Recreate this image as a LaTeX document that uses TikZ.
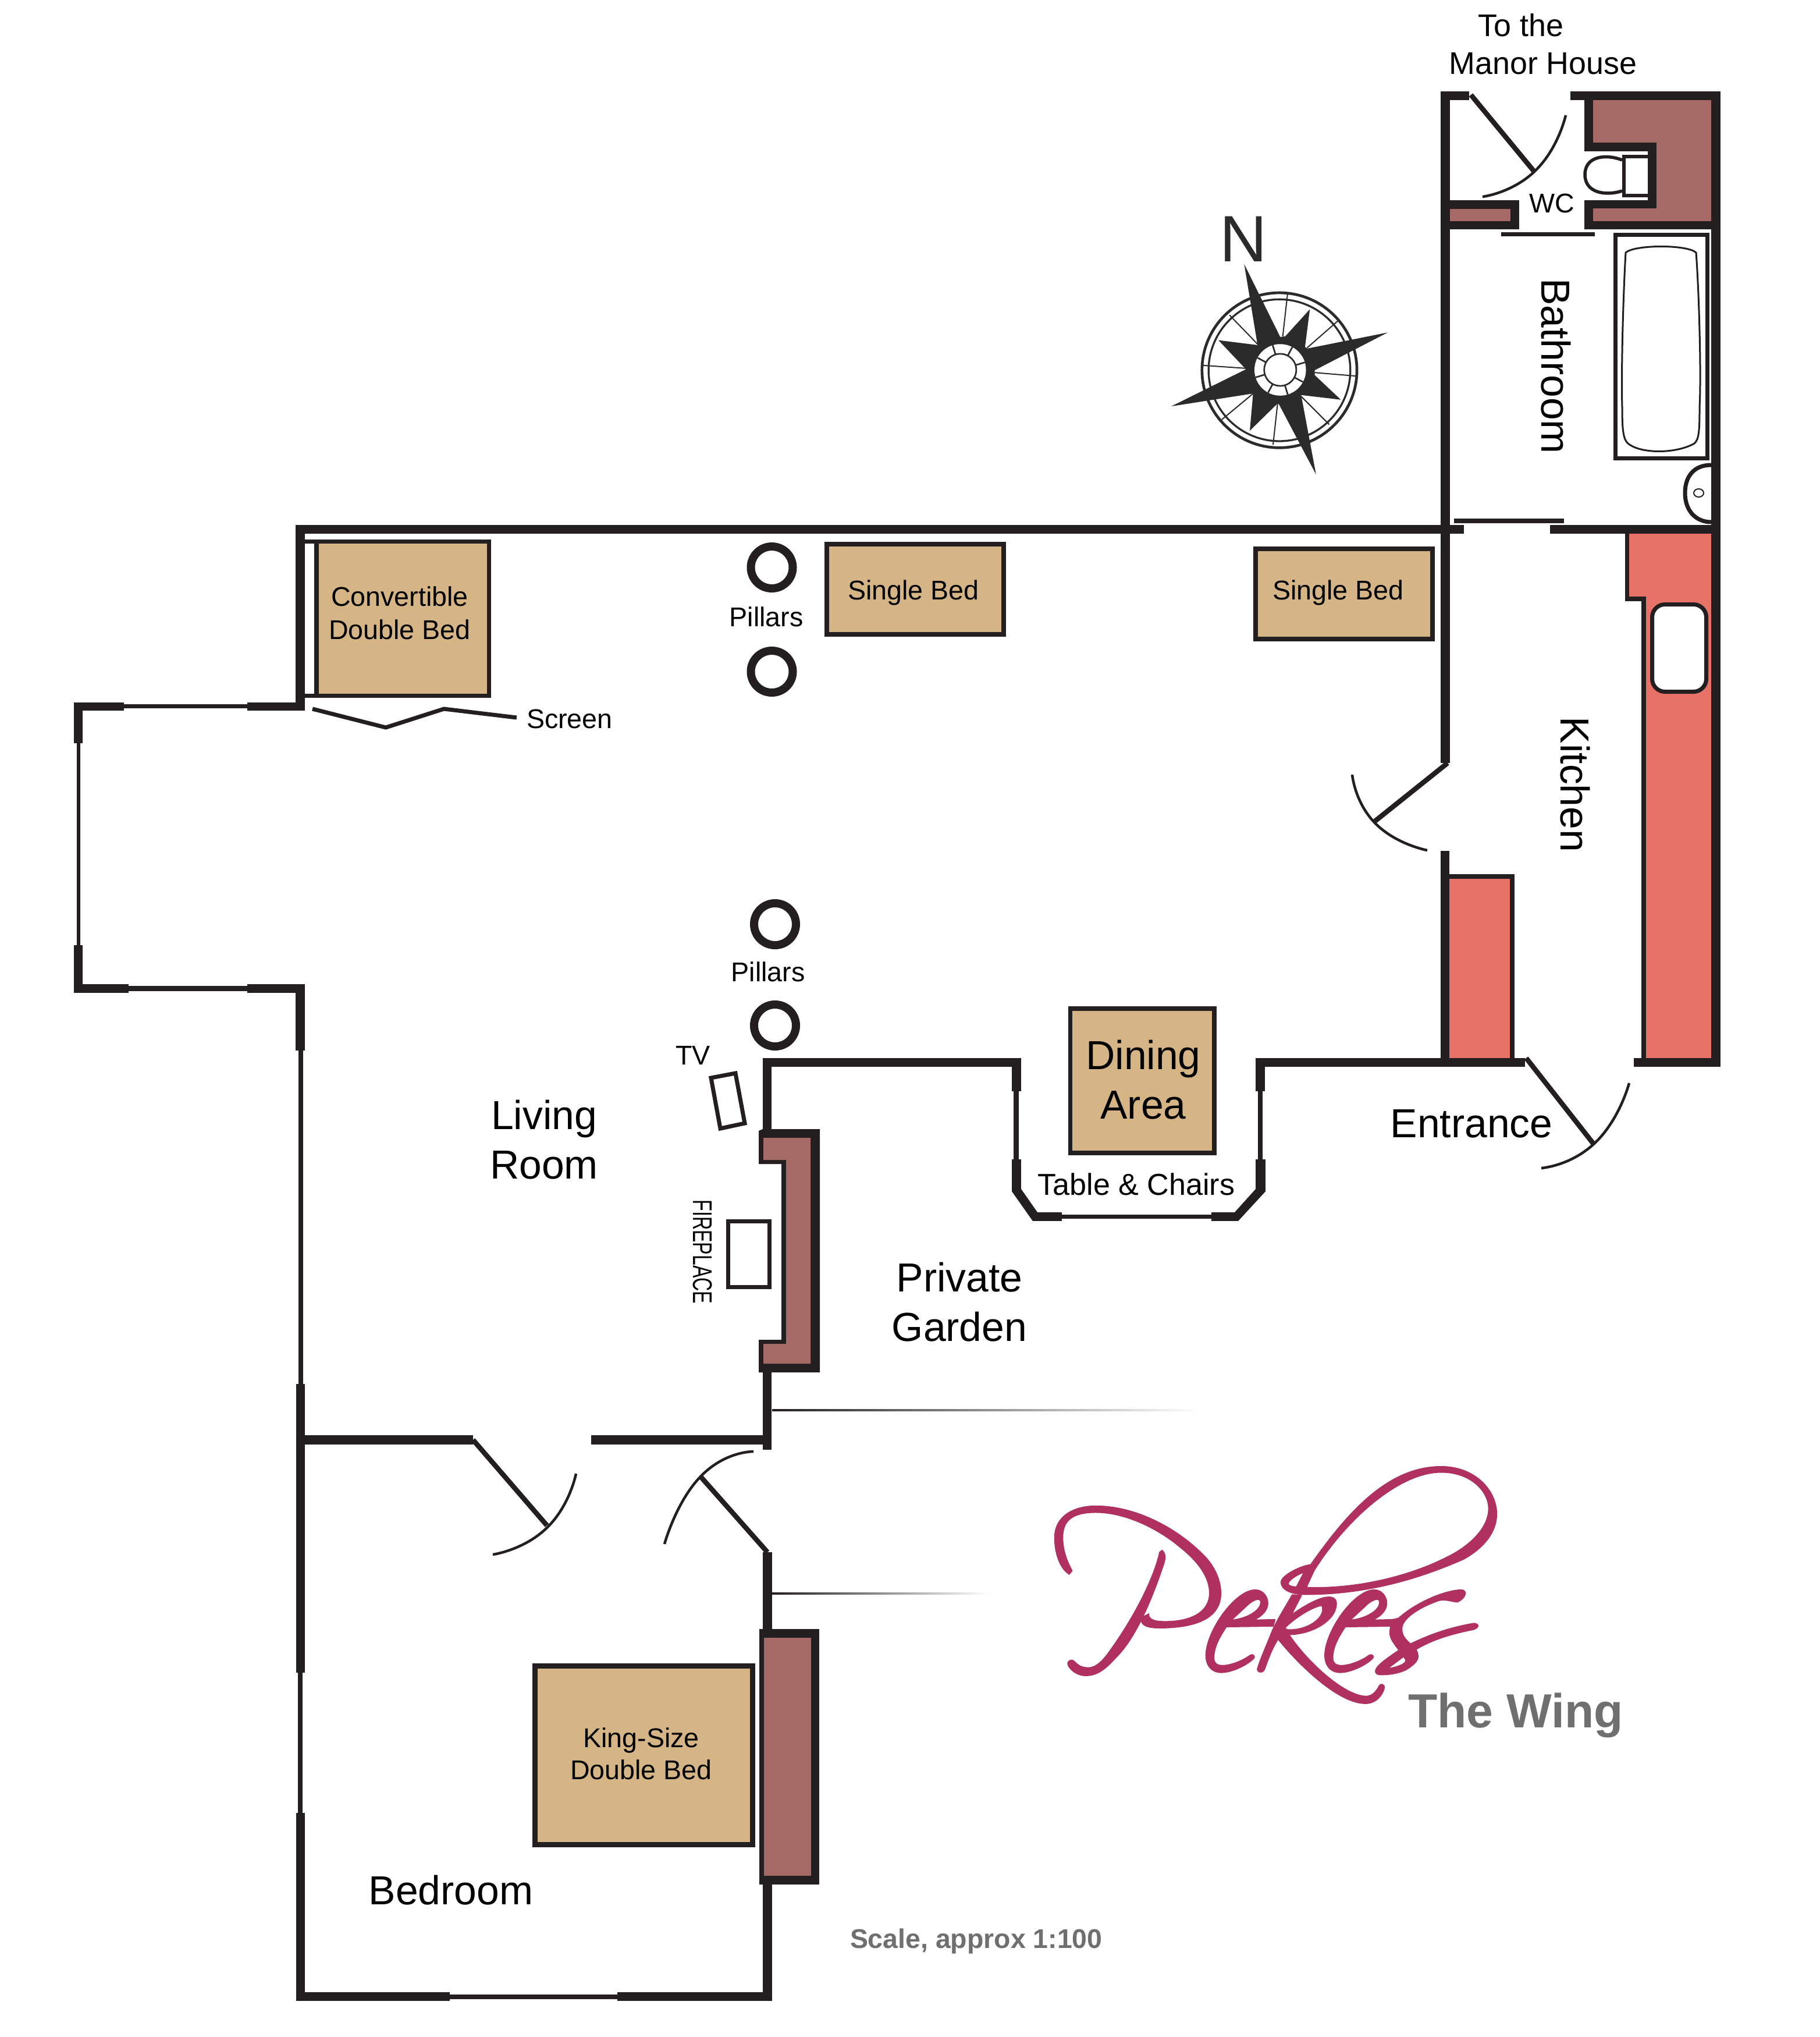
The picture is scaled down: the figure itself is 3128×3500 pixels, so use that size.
\documentclass[tikz,border=0pt]{standalone}
\usepackage{fontspec}
\usetikzlibrary{calc}
\setmainfont{Liberation Sans}
\definecolor{wallc}{HTML}{231F20}
\definecolor{tanc}{HTML}{D5B585}
\definecolor{brownc}{HTML}{A56A66}
\definecolor{coralc}{HTML}{E77267}
\definecolor{compassc}{HTML}{2B2B2B}
\definecolor{logoc}{HTML}{B03060}
\definecolor{greyc}{HTML}{6F6F6F}
\tikzset{
  wallfill/.style={fill=wallc},
  leaf/.style={draw=wallc,line width=0.085cm},
  swing/.style={draw=wallc,line width=0.045cm,smooth,tension=1},
  bedbox/.style={draw=wallc,fill=tanc,line width=0.08cm},
  pillar/.style={draw=wallc,line width=0.14cm},
  lab/.style={anchor=base,inner sep=0pt,outer sep=0pt},
  tsm/.style={lab,font=\fontsize{13.25}{15}\selectfont},
  tmd/.style={lab,font=\fontsize{14.8}{17}\selectfont},
  ttop/.style={lab,font=\fontsize{15.3}{18}\selectfont},
  tbg/.style={lab,font=\fontsize{19.8}{23}\selectfont},
  tgrey/.style={lab,text=greyc,font=\bfseries\fontsize{13.2}{15}\selectfont},
  logofill/.style={fill=logoc,even odd rule},
}
\newcommand{\W}[4]{\fill[wallfill] (#1,#2) rectangle (#3,#4);}
\newcommand{\logoE}{
  \fill[logofill] (580,733) .. controls (600,733) and (612,765) .. (612,795)
    .. controls (612,825) and (600,850) .. (582,868) -- (630,866) -- (625,900) -- (510,903)
    .. controls (495,945) and (480,990) .. (480,1040) .. controls (480,1060) and (485,1072) .. (500,1072)
    .. controls (520,1072) and (550,1050) .. (568,1025) .. controls (575,1020) and (582,1030) .. (578,1042)
    .. controls (565,1070) and (525,1108) .. (497,1108) .. controls (470,1108) and (458,1070) .. (458,1030)
    .. controls (458,920) and (530,733) .. (580,733) -- cycle
    (525,868) .. controls (560,860) and (595,825) .. (592,785) .. controls (590,772) and (575,785) .. (565,800) -- cycle;
}
\begin{document}
\begin{tikzpicture}[x=0.01cm,y=-0.01cm]
\fill[white] (0,0) rectangle (3128,3500);
\useasboundingbox (0,0) rectangle (3128,3500);

% ---------- coloured fills
\fill[brownc] (2738,172) -- (2941,172) -- (2941,380) -- (2738,380) -- (2738,358) -- (2847,358) -- (2847,245) -- (2738,245) -- cycle;
\fill[brownc] (2492,359) rectangle (2596,380);
\fill[coralc] (2800,917) -- (2941,917) -- (2941,1818) -- (2829,1818) -- (2829,1025) -- (2800,1025) -- cycle;
\fill[coralc] (2491,1510) rectangle (2595,1818);

% ---------- fireplace chimney
\fill[wallfill] (1304,1943) -- (1311,1940) -- (1409,1940) -- (1409,2358) -- (1304,2358) -- (1304,2302) -- (1343,2302) -- (1343,2000) -- (1304,2000) -- cycle;
\fill[brownc] (1312,1955) -- (1393,1955) -- (1393,2343) -- (1312,2343) -- (1312,2309) -- (1351,2309) -- (1351,1993) -- (1312,1993) -- cycle;
% ---------- bedroom chimney
\fill[wallfill] (1305,2799) rectangle (1408,3238);
\fill[brownc] (1313,2814) rectangle (1394,3223);

% ---------- outer walls, living room
\W{508}{902}{2516}{917}
\W{2664}{902}{2957}{917}
\W{508}{902}{524}{1221}
\W{127}{1207}{213}{1221}
\W{213}{1210}{425}{1217}
\W{425}{1207}{524}{1221}
\W{127}{1207}{142}{1277}
\W{132}{1277}{138}{1624}
\W{127}{1624}{142}{1706}
\W{127}{1691}{221}{1706}
\W{221}{1694}{425}{1703}
\W{425}{1691}{524}{1706}
\W{508}{1691}{524}{1805}
\W{513}{1805}{521}{2378}
\W{509}{2378}{524}{2874}
\W{512}{2874}{520}{3115}
\W{509}{3115}{524}{3438}
\W{509}{3423}{773}{3438}
\W{773}{3427}{1061}{3435}
\W{1061}{3423}{1327}{3438}
\W{1311}{3237}{1327}{3438}
\W{1311}{2667}{1327}{2799}
\W{1311}{2357}{1326}{2491}
\W{1311}{1818}{1326}{1940}
\W{524}{2466}{813}{2482}
\W{1016}{2466}{1311}{2482}
% ---------- dining bay
\W{1311}{1818}{1755}{1833}
\W{1739}{1818}{1755}{1875}
\W{1742}{1875}{1751}{1992}
\W{1739}{1992}{1755}{2047}
\fill[wallfill] (1739,2047) -- (1755,2043) -- (1783,2083) -- (1775,2098) -- cycle;
\W{1775}{2083}{1825}{2098}
\W{1825}{2087}{2082}{2094}
\W{2082}{2083}{2128}{2098}
\fill[wallfill] (2128,2098) -- (2175,2047) -- (2158,2043) -- (2122,2083) -- cycle;
\W{2158}{1992}{2175}{2047}
\W{2162}{1875}{2170}{1992}
\W{2158}{1818}{2174}{1875}
\W{2158}{1818}{2621}{1833}
\W{2808}{1818}{2957}{1833}
% ---------- kitchen and wing
\W{2476}{157}{2492}{1311}
\W{2476}{1462}{2491}{1833}
\W{2941}{157}{2957}{1833}
\W{2476}{157}{2525}{172}
\W{2699}{157}{2957}{172}
\W{2491}{1502}{2603}{1510}
\W{2595}{1502}{2603}{1818}
\W{2793}{917}{2800}{1033}
\W{2793}{1025}{2829}{1033}
\W{2821}{1025}{2829}{1818}
% WC walls
\W{2723}{172}{2738}{260}
\W{2723}{245}{2847}{260}
\W{2832}{245}{2847}{358}
\W{2723}{344}{2847}{358}
\W{2723}{344}{2738}{394}
\W{2723}{380}{2957}{394}
\W{2492}{344}{2611}{359}
\W{2596}{344}{2611}{394}
\W{2476}{380}{2611}{394}
% sliding doors
\W{2580}{399}{2741}{406}
\W{2499}{891}{2688}{899}

% ---------- doors
\coordinate (d1h) at (813,2474); \coordinate (d1e) at (940,2621);
\draw[leaf] (d1h) -- (d1e);
\draw[swing] plot coordinates {(990,2532) (940,2625) (847,2671)};
\coordinate (d2h) at (1319,2667); \coordinate (d2e) at (1204,2537);
\draw[leaf] (d2h) -- (d2e);
\draw[swing] plot coordinates {(1295,2494) (1204,2537) (1142,2653)};
\coordinate (d3h) at (2488,1311); \coordinate (d3e) at (2363,1411);
\draw[leaf] (d3h) -- (d3e);
\draw[swing] plot coordinates {(2324,1331) (2364,1415) (2453,1461)};
\coordinate (d4h) at (2623,1818); \coordinate (d4e) at (2740,1967);
\draw[leaf] (d4h) -- (d4e);
\draw[swing] plot coordinates {(2800,1861) (2742,1963) (2649,2007)};
\coordinate (d5h) at (2528,163); \coordinate (d5e) at (2637,295);
\draw[leaf] (d5h) -- (d5e);
\draw[swing] plot coordinates {(2691,198) (2639,293) (2548,338)};

% ---------- screen
\draw[draw=wallc,line width=0.07cm] (537,1218) -- (663,1250) -- (763,1218) -- (888,1233);

% ---------- beds and furniture
\fill[wallfill] (524,927) rectangle (844,1199);
\fill[white] (524,934) rectangle (540,1192);
\fill[tanc] (548,934) rectangle (837,1192);
\draw[bedbox] (1420.5,935) rectangle (1724.5,1090);
\draw[bedbox] (2157.5,943) rectangle (2461.5,1098);
\fill[wallfill] (1836,1729) rectangle (2091,1985);
\fill[tanc] (1843,1737) rectangle (2083,1977);
\draw[bedbox,line width=0.09cm] (919.5,2862) rectangle (1293,3169);

% pillars
\draw[pillar] (1326.5,975) circle (36);
\draw[pillar] (1326.5,1154) circle (36);
\draw[pillar] (1332,1588) circle (36);
\draw[pillar] (1332,1762) circle (36);

% TV and fireplace box
\draw[draw=wallc,line width=0.07cm] (1222,1852) -- (1264,1844) -- (1280,1930) -- (1238,1939) -- cycle;
\draw[draw=wallc,line width=0.07cm] (1251.5,2098) rectangle (1322.5,2211);

% sink
\draw[draw=wallc,fill=white,line width=0.07cm,rounded corners=0.22cm] (2839.5,1038.5) rectangle (2932.5,1188.5);

% bath
\draw[draw=wallc,line width=0.07cm] (2776,403.5) rectangle (2934,787.5);
\draw[draw=wallc,line width=0.03cm] (2794,434) .. controls (2810,420) and (2900,420) .. (2915,434)
  .. controls (2920,500) and (2924,640) .. (2921,700) .. controls (2921,740) and (2920,755) .. (2912,762)
  .. controls (2880,780) and (2820,780) .. (2798,762) .. controls (2790,755) and (2788,740) .. (2788,700)
  .. controls (2786,640) and (2790,500) .. (2794,434) -- cycle;

% basin
\draw[draw=wallc,line width=0.07cm] (2941,799) .. controls (2910,799) and (2896,820) .. (2896,847)
  .. controls (2896,878) and (2915,897) .. (2941,897);
\draw[draw=wallc,line width=0.02cm] (2919.5,847) ellipse (8.5 and 7);

% toilet
\draw[draw=wallc,line width=0.055cm] (2788,275) .. controls (2760,264) and (2724,268) .. (2724,300)
  .. controls (2724,332) and (2760,337) .. (2788,328);
\draw[draw=wallc,fill=white,line width=0.065cm] (2832,269) -- (2791,269) -- (2791,336) -- (2832,336);

% ---------- faded lines
\shade[left color=wallc,middle color=wallc,right color=white] (1327,2421) rectangle (2060,2424);
\shade[left color=wallc,middle color=wallc,right color=white] (1327,2736) rectangle (1700,2739);

% ---------- labels
\node[ttop] (l1) at (2614,62.5) {To the};
\node[ttop] (l2) at (2652,127.5) {Manor House};
\node[tsm] (l3) at (2667,365) {WC};
\node[tbg,rotate=-90] (l4) at (2649,629) {Bathroom};
\node[tbg,rotate=-90] (l5) at (2682,1348) {Kitchen};
\node[tsm] (l6) at (687,1041) {Convertible};
\node[tsm] (l7) at (687,1098) {Double Bed};
\node[tsm,anchor=base west] (l8) at (905,1251) {Screen};
\node[tsm] (l9) at (1317,1076) {Pillars};
\node[tsm] (l10) at (1320,1686) {Pillars};
\node[tsm] (l11) at (1570,1030) {Single Bed};
\node[tsm] (l12) at (2300,1030) {Single Bed};
\node[tsm] (l13) at (1191,1829) {TV};
\node[tbg] (l14) at (1965,1837) {Dining};
\node[tbg] (l15) at (1965,1922) {Area};
\node[tmd] (l16) at (1953,2053) {Table \& Chairs};
\node[tbg] (l17) at (2529,1954) {Entrance};
\node[tbg] (l18) at (935,1940) {Living};
\node[tbg] (l19) at (935,2025) {Room};
\node[tbg] (l20) at (1649,2219) {Private};
\node[tbg] (l21) at (1649,2304) {Garden};
\node[tsm,rotate=-90] (l22) at (1191,2151) {\scalebox{0.69}[1]{FIREPLACE}};
\node[tsm] (l23) at (1102,3002) {King-Size};
\node[tsm] (l24) at (1102,3057) {Double Bed};
\node[tbg] (l25) at (775,3272) {Bedroom};
\node[tgrey,anchor=base west] (l26) at (1461,3347) {Scale, approx 1:100};
\node[lab,anchor=base west,text=greyc,font=\bfseries\fontsize{23.4}{27}\selectfont] (l27) at (2420,2968) {The Wing};
\node[lab,text=compassc,font=\fontsize{32}{38}\selectfont] (l28) at (2137,449) {N};

% ---------- compass
\begin{scope}[shift={(1950,330)},x=0.0033333cm,y=-0.0033333cm]
  \draw[draw=compassc,line width=0.047cm] (748,920) circle (400);
  \draw[draw=compassc,line width=0.033cm] (748,920) circle (366);
  \foreach \a/\b/\c/\d in {790/525/765/745,1050/665/890/805,1145/950/930/932,1005/1200/860/1055,715/1305/738/1095,450/1175/615/1038,355/895/575/910,490/635/635/785}
    \draw[draw=compassc,line width=0.02cm] (\a,\b) -- (\c,\d);
  \fill[compassc] (566,372) -- (752,748) -- (778,745) -- (905,605) -- (880,800) -- (892,808) -- (1307,725) -- (930,920) -- (930,945) -- (1065,1072) -- (860,1048) -- (937,1458) -- (745,1095) -- (735,1095) -- (595,1232) -- (612,1040) -- (190,1106) -- (575,915) -- (433,765) -- (635,790) -- cycle;
  \fill[white] (752,918) circle (133);
  \draw[draw=compassc,line width=0.027cm] (752,918) circle (83);
  \foreach \t in {17,62,107,152,197,242,287,332}
    \draw[draw=compassc,line width=0.027cm] ($(752,918)+(-\t:83)$) -- ($(752,918)+(-\t:133)$);
\end{scope}

% ---------- logo
\begin{scope}[shift={(1750,2450)},x=0.0070180cm,y=-0.0038270cm]
  % P bowl
  \fill[logofill] (125,668) .. controls (100,640) and (88,570) .. (88,500) .. controls (88,410) and (130,357) .. (190,357)
    .. controls (290,357) and (390,460) .. (450,570) .. controls (485,630) and (497,700) .. (497,750)
    .. controls (497,860) and (440,908) .. (345,908) .. controls (315,908) and (300,895) .. (300,870)
    .. controls (300,855) and (312,848) .. (320,840) .. controls (320,860) and (325,875) .. (360,875)
    .. controls (425,875) and (467,830) .. (467,750) .. controls (467,680) and (440,610) .. (395,545)
    .. controls (340,460) and (260,390) .. (190,390) .. controls (130,390) and (110,430) .. (110,500)
    .. controls (110,570) and (125,620) .. (133,650) -- cycle;
  % P stem
  \fill[logofill] (352,555) .. controls (362,570) and (362,590) .. (358,615) .. controls (330,770) and (290,950) .. (240,1040)
    .. controls (215,1090) and (195,1122) .. (165,1122) .. controls (140,1122) and (120,1085) .. (120,1065)
    .. controls (120,1050) and (130,1045) .. (135,1050) .. controls (145,1065) and (150,1082) .. (172,1082)
    .. controls (195,1082) and (215,1030) .. (230,990) .. controls (280,860) and (330,690) .. (345,565) -- cycle;
  % e letters
  \logoE
  \begin{scope}[shift={(291,0)}]\logoE\end{scope}
  % big loop of k
  \fill[logofill] (715,620) .. controls (800,400) and (900,180) .. (1035,180) .. controls (1120,180) and (1172,290) .. (1172,395)
    .. controls (1172,490) and (1130,560) .. (1090,600) .. controls (990,680) and (860,760) .. (695,758)
    .. controls (670,755) and (642,740) .. (642,700) .. controls (642,670) and (690,625) .. (715,620) -- cycle
    (707,722) .. controls (830,730) and (960,670) .. (1050,585) .. controls (1090,550) and (1150,470) .. (1150,370)
    .. controls (1150,300) and (1110,210) .. (1035,210) .. controls (930,210) and (800,430) .. (725,650) -- cycle
    (680,720) .. controls (670,718) and (662,715) .. (662,708) .. controls (662,695) and (680,672) .. (697,660) -- cycle;
  % k stem
  \fill[logofill] (670,755) -- (638,855) -- (625,900) -- (620,920) .. controls (605,990) and (590,1050) .. (584,1090)
    .. controls (584,1110) and (600,1112) .. (604,1092) .. controls (612,1050) and (622,1000) .. (636,960)
    -- (655,900) -- (695,758) -- cycle;
  % k arm and leg
  \fill[logofill] (668,845) .. controls (695,810) and (735,765) .. (760,765) .. controls (785,765) and (782,805) .. (775,835)
    .. controls (760,890) and (715,935) .. (665,938) .. controls (710,1060) and (800,1210) .. (852,1210)
    .. controls (868,1210) and (878,1180) .. (882,1165) .. controls (886,1150) and (898,1155) .. (897,1175)
    .. controls (893,1210) and (875,1247) .. (850,1247) .. controls (780,1247) and (680,1060) .. (636,960)
    -- (650,905) -- cycle;
  \fill[white] (655,905) .. controls (680,860) and (720,815) .. (742,808) .. controls (752,850) and (715,910) .. (665,912)
    .. controls (658,912) and (655,910) .. (655,905) -- cycle;
  % s
  \fill[logofill] (912,868) -- (930,860) .. controls (980,780) and (1050,733) .. (1085,733)
    .. controls (1100,735) and (1100,770) .. (1075,792) .. controls (1060,790) and (1045,778) .. (1030,785)
    .. controls (990,810) and (940,860) .. (940,910) .. controls (940,945) and (952,960) .. (960,975)
    .. controls (1010,930) and (1060,900) .. (1115,883) .. controls (1130,885) and (1130,905) .. (1115,915)
    .. controls (1060,935) and (1015,960) .. (975,1003) .. controls (985,1040) and (980,1060) .. (950,1095)
    .. controls (925,1118) and (895,1118) .. (885,1118) .. controls (870,1115) and (870,1095) .. (880,1075)
    .. controls (890,1055) and (910,1030) .. (930,1005) .. controls (915,970) and (908,950) .. (908,925) -- cycle
    (908,1085) .. controls (925,1080) and (950,1065) .. (947,1050) -- (943,1037) -- cycle;
\end{scope}
\end{tikzpicture}
\end{document}
